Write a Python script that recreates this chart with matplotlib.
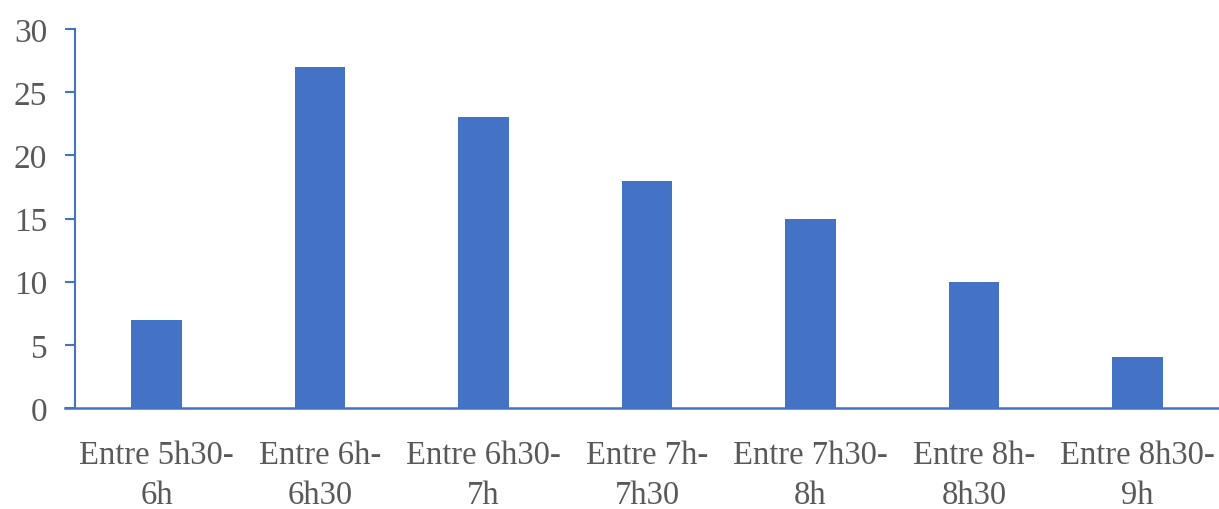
import matplotlib
matplotlib.use('Agg')
import matplotlib.pyplot as plt
import numpy as np

# plages horaires et effectifs
categories = ["Entre 5h30-\n6h", "Entre 6h-\n6h30", "Entre 6h30-\n7h", "Entre 7h-\n7h30",
              "Entre 7h30-\n8h", "Entre 8h-\n8h30", "Entre 8h30-\n9h"]
values = [7, 27, 23, 18, 15, 10, 4]
yticks = [0, 5, 10, 15, 20, 25, 30]

blue = '#4472C4'
grey = '#595959'

plt.rcParams['font.family'] = ['Liberation Serif', 'DejaVu Serif']

fig = plt.figure(figsize=(12.19, 5.10), dpi=100)
ax = fig.add_axes([75 / 1219, 101 / 510, 1 - 75 / 1219, 379 / 510])

x = np.arange(len(values))
ax.bar(x, values, width=0.31, color=blue, zorder=2)

ax.set_xlim(-0.5, len(values) - 0.5)
ax.set_ylim(0, 30)
ax.set_yticks(yticks)
ax.set_xticks(x)
ax.set_xticklabels(categories, fontsize=23.5, color=grey, linespacing=1.4)
ax.tick_params(axis='x', length=0, pad=23)
ax.tick_params(axis='y', direction='out', length=7, width=1.5, color=blue,
               labelsize=24, labelcolor=grey, pad=13)

for side in ['top', 'right']:
    ax.spines[side].set_visible(False)
ax.spines['left'].set_color(blue)
ax.spines['left'].set_linewidth(1.5)
ax.spines['bottom'].set_visible(False)

# axe horizontal prolongé jusqu'aux graduations
ax.plot([-10 / 1144, 1], [0, 0], transform=ax.get_yaxis_transform(),
        color=blue, lw=1.8, clip_on=False, zorder=3)

fig.savefig('out.png', dpi=100)
